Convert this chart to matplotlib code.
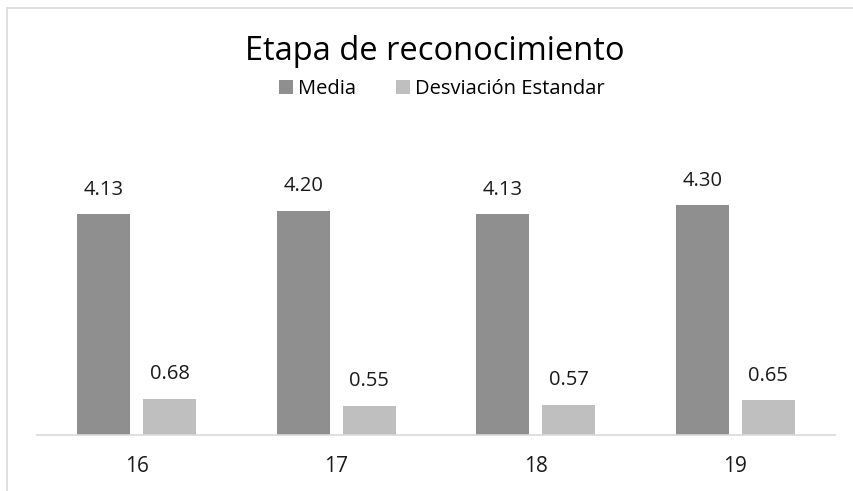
import numpy as np
import matplotlib.pyplot as plt
from matplotlib.patches import Rectangle

plt.rcParams['font.family'] = ['Open Sans', 'DejaVu Sans']

categorias = ['16', '17', '18', '19']
media = [4.13, 4.20, 4.13, 4.30]
desviacion = [0.68, 0.55, 0.57, 0.65]

c_media = '#8f8f8f'
c_desv = '#bfbfbf'

fig = plt.figure(figsize=(8.54, 4.91), dpi=100)
# marco del grafico (solo se ven los bordes izquierdo y superior)
fig.patches.append(Rectangle((7 / 854, -0.1), 1.2, (491 - 8) / 491 + 0.1,
                             transform=fig.transFigure, fill=False,
                             edgecolor='#d9d9d9', linewidth=1.2))

ax = fig.add_axes([37 / 854, (491 - 435) / 491, (835 - 37) / 854, (435 - 168) / 491])
x = np.arange(len(categorias))
w = 0.266
off = 0.165
b1 = ax.bar(x - off, media, w, color=c_media, label='Media')
b2 = ax.bar(x + off, desviacion, w, color=c_desv, label='Desviación Estandar')

for bars, vals in ((b1, media), (b2, desviacion)):
    for b, v in zip(bars, vals):
        ax.text(b.get_x() + b.get_width() / 2, v + 0.27, '%.2f' % v,
                ha='center', va='bottom', fontsize=14.5, color='#1a1a1a')

ax.set_xlim(-0.5, 3.5)
ax.set_ylim(0, 5)
ax.set_xticks(x)
ax.set_xticklabels(categorias, fontsize=15, color='#1a1a1a')
ax.tick_params(axis='x', length=0, pad=15)
ax.set_yticks([])
for s in ['top', 'right', 'left']:
    ax.spines[s].set_visible(False)
ax.spines['bottom'].set_color('#d9d9d9')
ax.spines['bottom'].set_linewidth(1.2)

fig.text(435 / 854, 1 - 51 / 491, 'Etapa de reconocimiento', ha='center', va='center',
         fontsize=23.5, color='#000000')
fig.legend(loc='center', bbox_to_anchor=(442 / 854, 1 - 89 / 491), ncol=2, frameon=False,
           fontsize=14.5, handlelength=0.7, handleheight=0.7, columnspacing=2.0,
           handletextpad=0.25)

fig.savefig('out.png', dpi=100)
